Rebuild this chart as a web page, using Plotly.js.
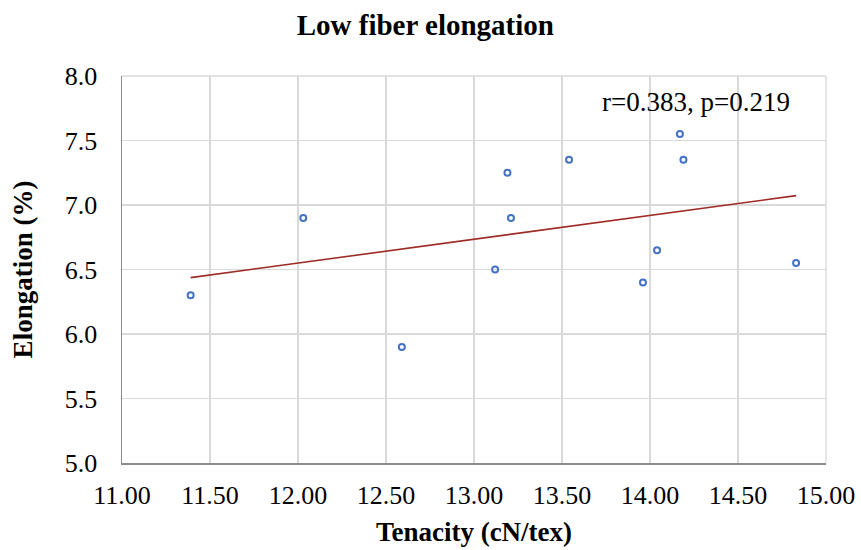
<!DOCTYPE html>
<html>
<head>
<meta charset="utf-8">
<script src="https://cdn.plot.ly/plotly-3.0.1.min.js"></script>
<style>html,body{margin:0;padding:0;background:#fff;}#chart{width:861px;height:550px;}</style>
</head>
<body>
<div id="chart"></div>
<script>
const tenacity = [11.39, 12.03, 12.59, 13.12, 13.19, 13.21, 13.54, 13.96, 14.04, 14.17, 14.19, 14.83];
const elongation = [6.30, 6.90, 5.90, 6.50, 7.25, 6.90, 7.35, 6.40, 6.65, 7.55, 7.35, 6.55];
const xTicks = [11.0, 11.5, 12.0, 12.5, 13.0, 13.5, 14.0, 14.5, 15.0];
const xTickLabels = ["11.00", "11.50", "12.00", "12.50", "13.00", "13.50", "14.00", "14.50", "15.00"];
const yTicks = [5.0, 5.5, 6.0, 6.5, 7.0, 7.5, 8.0];
const yTickLabels = ["5.0", "5.5", "6.0", "6.5", "7.0", "7.5", "8.0"];
const statText = "r=0.383, p=0.219";

// least-squares trendline from the data
const n = tenacity.length;
const mx = tenacity.reduce((a, b) => a + b, 0) / n;
const my = elongation.reduce((a, b) => a + b, 0) / n;
let sxy = 0, sxx = 0;
for (let i = 0; i < n; i++) { sxy += (tenacity[i] - mx) * (elongation[i] - my); sxx += (tenacity[i] - mx) ** 2; }
const slope = sxy / sxx, icpt = my - slope * mx;
const xmin = Math.min(...tenacity), xmax = Math.max(...tenacity);
const trendX = [xmin, xmax];
const trendY = trendX.map(v => icpt + slope * v);

const font = "Liberation Serif, Times New Roman, serif";
const data = [
  {x: trendX, y: trendY, type: "scatter", mode: "lines",
   line: {color: "#9E2B25", width: 1.6}, hoverinfo: "skip"},
  {x: tenacity, y: elongation, type: "scatter", mode: "markers",
   marker: {symbol: "circle-open", size: 6, color: "#4472C4", line: {width: 2, color: "#4472C4"}}}
];
const layout = {
  width: 861, height: 550,
  margin: {l: 122, r: 35, t: 76, b: 87},
  paper_bgcolor: "#fff", plot_bgcolor: "#fff",
  showlegend: false,
  font: {family: font, size: 26, color: "#000"},
  title: {text: "<b>Low fiber elongation</b>", font: {family: font, size: 29, color: "#000"},
          x: 0.494, xref: "container", y: 0.955, yref: "container", yanchor: "middle"},
  xaxis: {range: [11, 15], tickvals: xTicks, ticktext: xTickLabels,
          showgrid: true, gridcolor: "#d9d9d9", gridwidth: 1.3,
          showline: true, linecolor: "#8c8c8c", linewidth: 1.5, mirror: false,
          zeroline: false, ticks: "", ticklen: 0, ticklabelstandoff: 8,
          tickfont: {family: font, size: 26, color: "#000"},
          title: {text: "<b>Tenacity (cN/tex)</b>", font: {family: font, size: 27, color: "#000"}, standoff: 13}},
  yaxis: {range: [5, 8], tickvals: yTicks, ticktext: yTickLabels,
          showgrid: true, gridcolor: "#d9d9d9", gridwidth: 1.3,
          showline: true, linecolor: "#8c8c8c", linewidth: 1.5,
          zeroline: false, ticks: "", ticklen: 0, ticklabelstandoff: 18,
          tickfont: {family: font, size: 26, color: "#000"},
          title: {text: "<b>Elongation (%)</b>", font: {family: font, size: 27, color: "#000"}, standoff: 24}},
  shapes: [
    {type: "line", xref: "paper", yref: "paper", x0: 1, x1: 1, y0: 0, y1: 1, line: {color: "#d9d9d9", width: 1.3}},
    {type: "line", xref: "paper", yref: "paper", x0: 0, x1: 1, y0: 1, y1: 1, line: {color: "#d9d9d9", width: 1.3}}
  ],
  annotations: [
    {x: 14.26, y: 7.80, xref: "x", yref: "y", text: statText, showarrow: false,
     font: {family: font, size: 27, color: "#000"}, xanchor: "center", yanchor: "middle"}
  ]
};
Plotly.newPlot("chart", data, layout, {displayModeBar: false, staticPlot: true});
</script>
</body>
</html>
